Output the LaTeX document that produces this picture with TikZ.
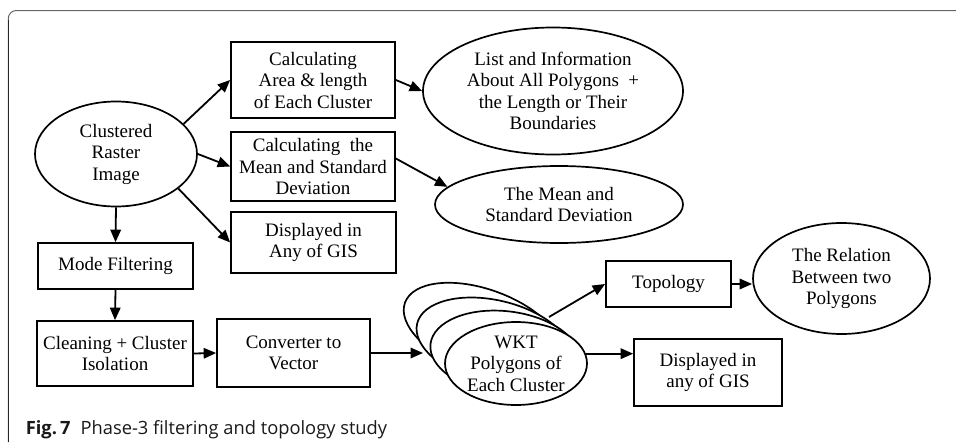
\documentclass[tikz,border=0pt]{standalone}
\usepackage{fontspec}
\setmainfont{Liberation Serif}
\newfontfamily\capfont{Open Sans}
\usetikzlibrary{shapes.geometric,arrows.meta,calc}
\begin{document}
\begin{tikzpicture}[x=1pt,y=-1pt,
  every node/.style={font=\fontsize{19}{21.5}\selectfont, align=center, inner sep=0pt, line width=1.7pt},
  box/.style={draw, rectangle},
  ell/.style={draw, ellipse},
  arr/.style={-{Triangle[length=12.5pt,width=10.5pt]}, line width=1.8pt},
]
\useasboundingbox (0,0) rectangle (956,442);
% frame
\draw[line width=1pt, color=black!60] (8.3,442) -- (8.3,18.5) arc[start angle=180,end angle=270,radius=8] -- (956,10.5);
\draw[line width=1pt, color=black!85] (8.3,442) -- (8.3,20);

\node[ell, minimum width=162pt, minimum height=105pt] (clus) at (116,154) {Clustered\\Raster\\Image};
\node[box, minimum width=164pt, minimum height=76pt] (area) at (313,80) {Calculating\\Area \& length\\of Each Cluster};
\node[box, minimum width=164pt, minimum height=69pt] (mean) at (313,166.5) {Calculating\ \ the\\Mean and Standard\\Deviation};
\node[box, minimum width=165pt, minimum height=61pt] (disp1) at (313.5,242.5) {Displayed in\\Any of GIS};
\node[ell, minimum width=260pt, minimum height=127pt] (list) at (553,91) {List and Information\\About All Polygons\ \ +\\the Length or Their\\Boundaries};
\node[ell, minimum width=248pt, minimum height=77pt] (meanel) at (559,204.5) {The Mean and\\Standard Deviation};
\node[box, minimum width=155pt, minimum height=46pt] (mode) at (115.5,266) {Mode Filtering};
\node[box, minimum width=156pt, minimum height=65pt] (clean) at (115,353.5) {Cleaning + Cluster\\Isolation};
\node[box, minimum width=153pt, minimum height=68pt] (conv) at (293.5,353) {Converter to\\Vector};

\node[ell, fill=white, minimum width=166pt, minimum height=83pt, rotate=-20] (w3) at (483,331) {};
\node[ell, fill=white, minimum width=158pt, minimum height=83pt, rotate=-13.3] (w2) at (494,341.8) {};
\node[ell, fill=white, minimum width=150pt, minimum height=83pt, rotate=-6.7] (w1) at (505,352.7) {};
\node[ell, fill=white, minimum width=142pt, minimum height=83pt, inner ysep=-12pt] (w0) at (516,363.5) {WKT\\Polygons of\\Each Cluster};

\node[box, minimum width=125pt, minimum height=46pt] (topo) at (668.5,284) {Topology};
\node[ell, minimum width=177pt, minimum height=111pt] (rel) at (841.5,278.5) {The Relation\\Between two\\Polygons};
\node[box, minimum width=148pt, minimum height=67pt] (disp2) at (708,372.5) {Displayed in\\any of GIS};

\coordinate (wktin) at (423,353);
\coordinate (wktout) at (549,317);

\draw[arr] (clus.24) -- (area.west);
\draw[arr] (clus.east) -- (mean.west);
\draw[arr] (clus.-29) -- (disp1.west);
\draw[arr] (clus.south) -- (mode.north);
\draw[arr] (mode.south) -- (clean.north);
\draw[arr] (clean.east) -- (conv.west);
\draw[arr] (conv.east) -- (wktin);
\draw[arr] (area.east) -- (list.west);
\draw[arr] ($(mean.east)+(0,-8)$) -- (meanel.171);
\draw[arr] (wktout) -- (topo.west);
\draw[arr] (w0.8) -- (w0.8 -| disp2.west);
\draw[arr] (topo.east) -- (topo.east -| rel.west);

\node[anchor=base west, font=\capfont\fontsize{18.3}{20}\selectfont, text=black!90] (cap) at (25,434) {\textbf{Fig.\,7}\hspace{0.55em}Phase-3 filtering and topology study};
\end{tikzpicture}
\end{document}
